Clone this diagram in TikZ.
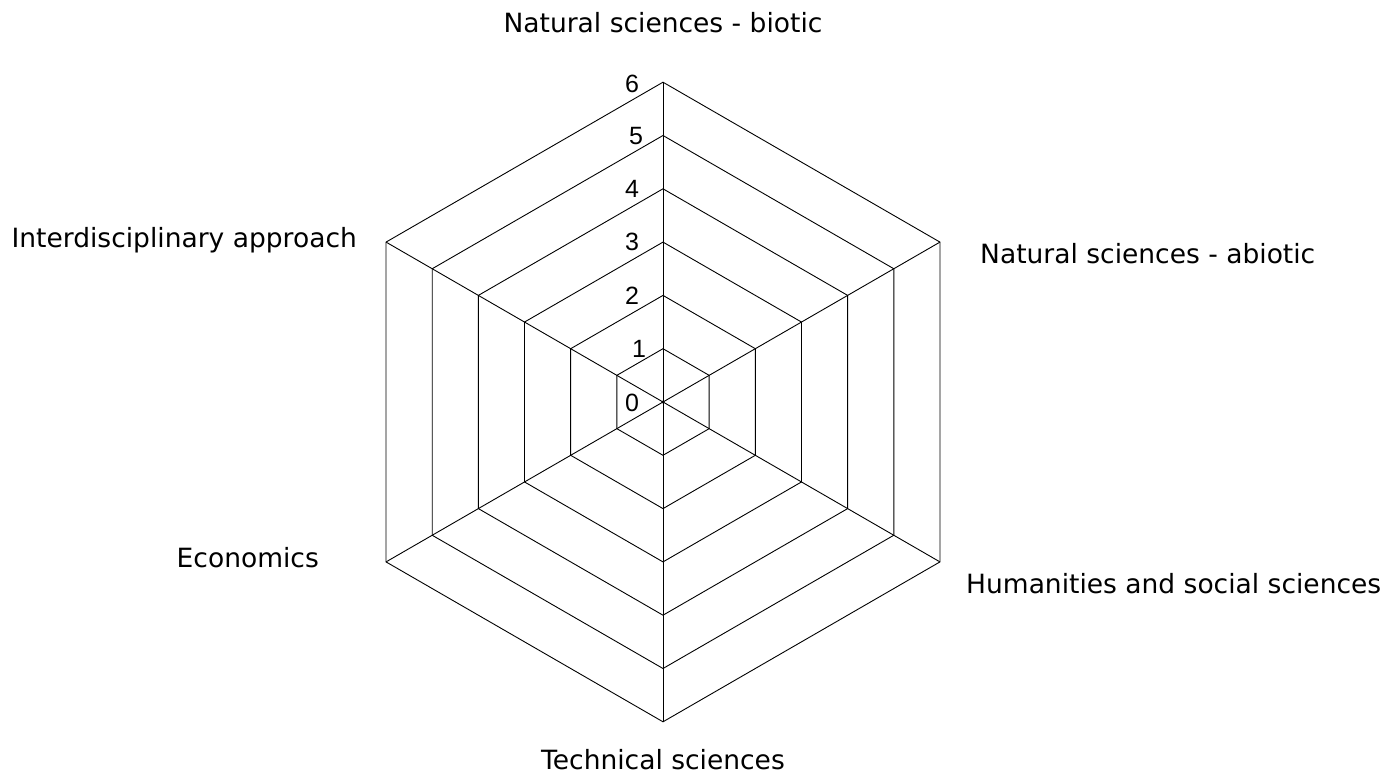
\documentclass[tikz,border=0pt]{standalone}
\usepackage{fontspec}
\setmainfont{DejaVu Sans}
\newfontfamily\numfont{Liberation Sans}
\begin{document}
\begin{tikzpicture}[x=1pt,y=-1pt,
  gridline/.style={line width=0.9pt, black},
  axlabel/.style={font=\fontsize{26.5}{30}\selectfont, inner sep=0pt},
  numlabel/.style={font=\numfont\fontsize{25}{28}\selectfont, inner sep=0pt, anchor=center}]
\useasboundingbox (0,0) rectangle (1390,773);
\coordinate (O) at (663,402);
\foreach \k in {1,...,6}{
  \foreach \i/\a in {1/90,2/30,3/-30,4/-90,5/-150,6/150}{
    \coordinate (v\k-\i) at ({663+53.3*\k*cos(\a)},{402-53.3*\k*sin(\a)});
  }
  \draw[gridline] (v\k-1)--(v\k-2)--(v\k-3)--(v\k-4)--(v\k-5)--(v\k-6)--cycle;
}
\foreach \i in {1,...,6} \draw[gridline] (O)--(v6-\i);
\fill (O) circle (1.6);
% scale numbers
\node[numlabel] (n0) at (632,403) {0};
\node[numlabel] (n1) at (639,349) {1};
\node[numlabel] (n2) at (632,296) {2};
\node[numlabel] (n3) at (632,242) {3};
\node[numlabel] (n4) at (632,189) {4};
\node[numlabel] (n5) at (636,136) {5};
\node[numlabel] (n6) at (632,84) {6};
% axis labels
\node[axlabel, anchor=base] (nb) at (663,33) {Natural sciences - biotic};
\node[axlabel, anchor=base west] (na) at (980,263) {Natural sciences - abiotic};
\node[axlabel, anchor=base west] (hs) at (966,593) {Humanities and social sciences};
\node[axlabel, anchor=base] (ts) at (663,769) {Technical sciences};
\node[axlabel, anchor=base east] (ec) at (319,567) {Economics};
\node[axlabel, anchor=base east] (ia) at (357,247) {Interdisciplinary approach};
\end{tikzpicture}
\end{document}
